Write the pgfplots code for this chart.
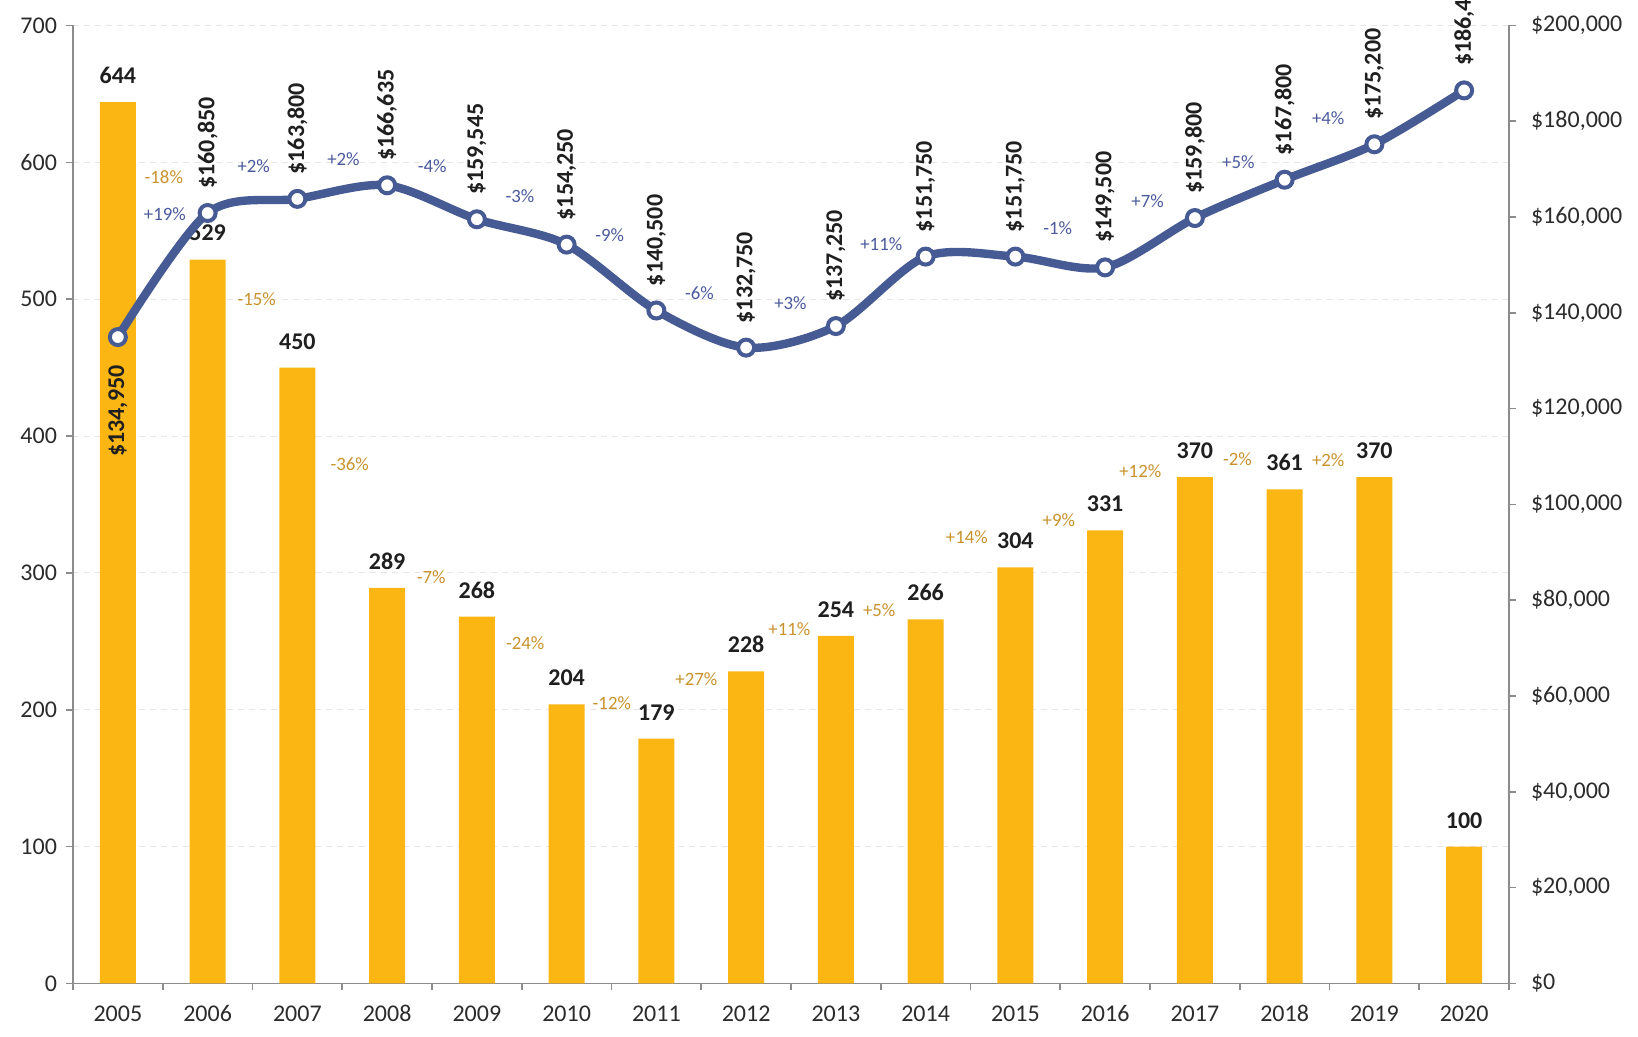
\documentclass[border=0pt]{standalone}
\usepackage{pgfplots}
\pgfplotsset{compat=1.18}
\usepackage{fontspec}
\setmainfont{Carlito}
\definecolor{baryellow}{HTML}{FBB614}
\definecolor{lineblue}{HTML}{465A94}
\definecolor{pctorange}{HTML}{C8922C}
\definecolor{pctblue}{HTML}{4A5A9C}
\definecolor{axisgray}{HTML}{8C8C8C}
\definecolor{gridgray}{HTML}{E6E6E6}
\definecolor{tickgray}{HTML}{2B2B2B}
\definecolor{labelblack}{HTML}{1F1F1F}
\newcommand{\tickfont}{\fontsize{12}{14}\selectfont}
\newcommand{\valfont}{\bfseries\fontsize{12}{14}\selectfont}
\newcommand{\pctfont}{\fontsize{9.4}{11}\selectfont}
\pgfplotsset{
  common/.style={at={(0,0)}, anchor=south west, width=718pt, height=479pt,
    scale only axis, xmin=-0.5, xmax=15.5, tick align=outside,
    axis line style={axisgray, line width=0.8pt, -},
    tick style={axisgray, line width=0.8pt},
    major tick length=3.5pt, minor tick length=3.5pt,
    ticklabel style={font=\tickfont, text=tickgray},
    /pgf/number format/assume math mode=true,
    clip=false}
}
\begin{document}
\begin{tikzpicture}
\useasboundingbox (-36.5pt,-26.75pt) rectangle (782.5pt,491.75pt);
\begin{axis}[common, ymin=0, ymax=700,
  axis x line*=bottom, axis y line*=left,
  xtick={0,...,15},
  xticklabels={2005,2006,2007,2008,2009,2010,2011,2012,2013,2014,2015,2016,2017,2018,2019,2020},
  minor xtick={-0.5,0.5,...,15.5},
  major x tick style={draw=none},
  ytick={0,100,...,700},
  ymajorgrids, grid style={gridgray, dash pattern=on 3pt off 2.5pt, line width=0.5pt},
  xticklabel style={yshift=-4pt, text height=8pt, text depth=0pt},
  yticklabel style={xshift=-1pt}]
\addplot[ybar, bar width=18pt, fill=baryellow, draw=none,
  nodes near coords,
  every node near coord/.append style={font=\valfont, text=labelblack, anchor=south, inner sep=0pt, yshift=9pt}]
  coordinates {(0,644) (1,529) (2,450) (3,289) (4,268) (5,204) (6,179) (7,228)
    (8,254) (9,266) (10,304) (11,331) (12,370) (13,361) (14,370) (15,100)};
\addplot[draw=none, mark=none, point meta=explicit symbolic, nodes near coords,
  every node near coord/.append style={font=\pctfont, text=pctorange, anchor=center, inner sep=0pt}]
  coordinates {(0.512,589.3)[-18\%] (1.548,500.0)[-15\%] (2.583,379.4)[-36\%]
    (3.491,297.0)[-7\%] (4.538,248.9)[-24\%] (5.504,204.6)[-12\%] (6.446,222.1)[+27\%]
    (7.482,258.8)[+11\%] (8.483,272.5)[+5\%] (9.460,326.0)[+14\%] (10.484,338.9)[+9\%]
    (11.392,374.0)[+12\%] (12.474,383.2)[-2\%] (13.486,382.4)[+2\%]};
\addplot[draw=none, mark=none, point meta=explicit symbolic, nodes near coords,
  every node near coord/.append style={font=\pctfont, text=pctblue, anchor=center, inner sep=0pt}]
  coordinates {(0.524,561.8)[+19\%] (1.513,597.0)[+2\%] (2.513,602.3)[+2\%]
    (3.502,597.0)[-4\%] (4.480,575.6)[-3\%] (5.481,546.6)[-9\%] (6.481,504.6)[-6\%]
    (7.494,496.9)[+3\%] (8.506,540.5)[+11\%] (10.472,551.9)[-1\%] (11.473,571.8)[+7\%]
    (12.485,600.0)[+5\%] (13.486,632.1)[+4\%]};
\end{axis}
\begin{axis}[common, ymin=0, ymax=200000,
  axis y line*=right, axis x line=none,
  ytick={0,20000,...,200000}, scaled y ticks=false,
  yticklabels={{\$0},{\$20,000},{\$40,000},{\$60,000},{\$80,000},{\$100,000},{\$120,000},{\$140,000},{\$160,000},{\$180,000},{\$200,000}},
  yticklabel style={xshift=4pt}]
\addplot[lineblue, line width=4.2pt, smooth, mark=*, mark size=4pt,
  mark options={fill=white, draw=lineblue, line width=2pt, solid}]
  coordinates {(0,134950) (1,160850) (2,163800) (3,166635) (4,159545) (5,154250)
    (6,140500) (7,132750) (8,137250) (9,151750) (10,151750) (11,149500)
    (12,159800) (13,167800) (14,175200) (15,186450)};
\addplot[draw=none, mark=none, point meta=explicit symbolic, nodes near coords,
  every node near coord/.append style={font=\valfont, text=labelblack, rotate=90, anchor=west, inner xsep=12pt, inner ysep=0pt}]
  coordinates {(1,160850)[\$160,850] (2,163800)[\$163,800] (3,166635)[\$166,635]
    (4,159545)[\$159,545] (5,154250)[\$154,250] (6,140500)[\$140,500]
    (7,132750)[\$132,750] (8,137250)[\$137,250] (9,151750)[\$151,750]
    (10,151750)[\$151,750] (11,149500)[\$149,500] (12,159800)[\$159,800]
    (13,167800)[\$167,800] (14,175200)[\$175,200] (15,186450)[\$186,450]};
\addplot[draw=none, mark=none, point meta=explicit symbolic, nodes near coords,
  every node near coord/.append style={font=\valfont, text=labelblack, rotate=90, anchor=east, inner xsep=14pt, inner ysep=0pt}]
  coordinates {(0,134950)[\$134,950]};
\end{axis}
\end{tikzpicture}
\end{document}
